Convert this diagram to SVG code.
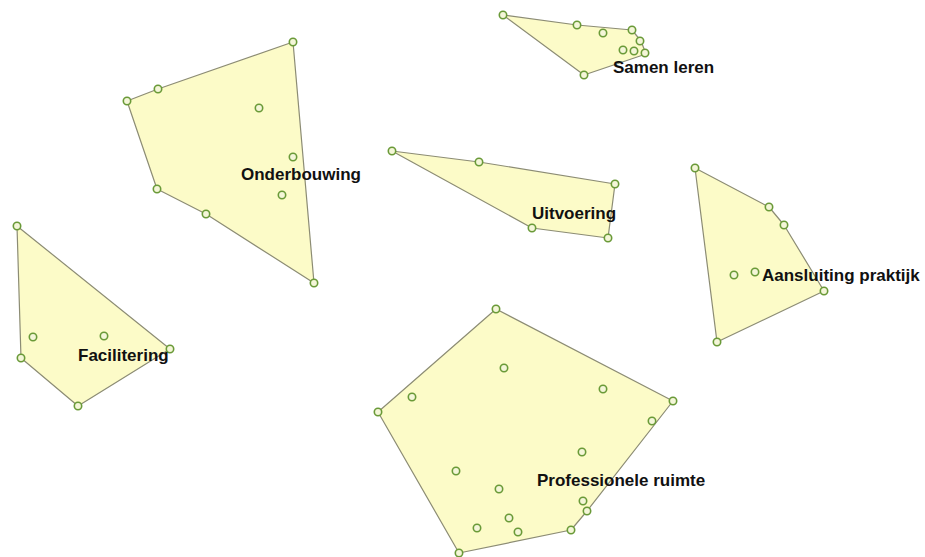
<svg xmlns="http://www.w3.org/2000/svg" width="925" height="557" viewBox="0 0 925 557">
<style>
.hull{fill:#fcfbc8;stroke:#8c8c74;stroke-width:1.2;stroke-linejoin:round}
.pt{fill:#f4f6d8;stroke:#6a9a38;stroke-width:1.6}
.lbl{font-family:"Liberation Sans",Arial,sans-serif;font-weight:bold;font-size:17px;fill:#111111}
</style>
<rect width="925" height="557" fill="#ffffff"/>
<g id="samen-leren">
<polygon class="hull" points="503,15 577,25 632,30 641,41 646,54 584,75"/>
<circle class="pt" cx="503" cy="15" r="3.7"/><circle class="pt" cx="577" cy="25" r="3.7"/><circle class="pt" cx="603" cy="33" r="3.7"/><circle class="pt" cx="632" cy="30" r="3.7"/><circle class="pt" cx="640" cy="41" r="3.7"/><circle class="pt" cx="623" cy="50" r="3.7"/><circle class="pt" cx="634" cy="51" r="3.7"/><circle class="pt" cx="645" cy="53" r="3.7"/><circle class="pt" cx="584" cy="75" r="3.7"/>
<text class="lbl" x="613" y="73">Samen leren</text>
</g>
<g id="onderbouwing">
<polygon class="hull" points="293,42 314,283 206,214 157,189 127,101 158,89"/>
<circle class="pt" cx="293" cy="42" r="3.7"/><circle class="pt" cx="158" cy="89" r="3.7"/><circle class="pt" cx="127" cy="101" r="3.7"/><circle class="pt" cx="259" cy="108" r="3.7"/><circle class="pt" cx="293" cy="157" r="3.7"/><circle class="pt" cx="157" cy="189" r="3.7"/><circle class="pt" cx="282" cy="195" r="3.7"/><circle class="pt" cx="206" cy="214" r="3.7"/><circle class="pt" cx="314" cy="283" r="3.7"/>
<text class="lbl" x="241" y="180">Onderbouwing</text>
</g>
<g id="uitvoering">
<polygon class="hull" points="392,151 479,162 615,184 608,238 532,228"/>
<circle class="pt" cx="392" cy="151" r="3.7"/><circle class="pt" cx="479" cy="162" r="3.7"/><circle class="pt" cx="615" cy="184" r="3.7"/><circle class="pt" cx="532" cy="228" r="3.7"/><circle class="pt" cx="608" cy="238" r="3.7"/>
<text class="lbl" x="532" y="219">Uitvoering</text>
</g>
<g id="aansluiting-praktijk">
<polygon class="hull" points="695,168 769,207 784,225 824,291 717,342"/>
<circle class="pt" cx="695" cy="168" r="3.7"/><circle class="pt" cx="769" cy="207" r="3.7"/><circle class="pt" cx="784" cy="225" r="3.7"/><circle class="pt" cx="734" cy="275" r="3.7"/><circle class="pt" cx="755" cy="272" r="3.7"/><circle class="pt" cx="824" cy="291" r="3.7"/><circle class="pt" cx="717" cy="342" r="3.7"/>
<text class="lbl" x="762" y="281">Aansluiting praktijk</text>
</g>
<g id="facilitering">
<polygon class="hull" points="17,226 170,349 78,406 21,358"/>
<circle class="pt" cx="17" cy="226" r="3.7"/><circle class="pt" cx="33" cy="337" r="3.7"/><circle class="pt" cx="104" cy="336" r="3.7"/><circle class="pt" cx="170" cy="349" r="3.7"/><circle class="pt" cx="21" cy="358" r="3.7"/><circle class="pt" cx="78" cy="406" r="3.7"/>
<text class="lbl" x="78" y="361">Facilitering</text>
</g>
<g id="professionele-ruimte">
<polygon class="hull" points="496,309 673,401 587,511 571,530 459,553 378,412"/>
<circle class="pt" cx="496" cy="309" r="3.7"/><circle class="pt" cx="504" cy="368" r="3.7"/><circle class="pt" cx="412" cy="397" r="3.7"/><circle class="pt" cx="378" cy="412" r="3.7"/><circle class="pt" cx="603" cy="389" r="3.7"/><circle class="pt" cx="673" cy="401" r="3.7"/><circle class="pt" cx="652" cy="421" r="3.7"/><circle class="pt" cx="582" cy="452" r="3.7"/><circle class="pt" cx="456" cy="471" r="3.7"/><circle class="pt" cx="499" cy="489" r="3.7"/><circle class="pt" cx="583" cy="501" r="3.7"/><circle class="pt" cx="587" cy="511" r="3.7"/><circle class="pt" cx="509" cy="518" r="3.7"/><circle class="pt" cx="477" cy="528" r="3.7"/><circle class="pt" cx="518" cy="532" r="3.7"/><circle class="pt" cx="571" cy="530" r="3.7"/><circle class="pt" cx="459" cy="553" r="3.7"/>
<text class="lbl" x="537" y="486">Professionele ruimte</text>
</g>
<g id="connectors"/>
</svg>
